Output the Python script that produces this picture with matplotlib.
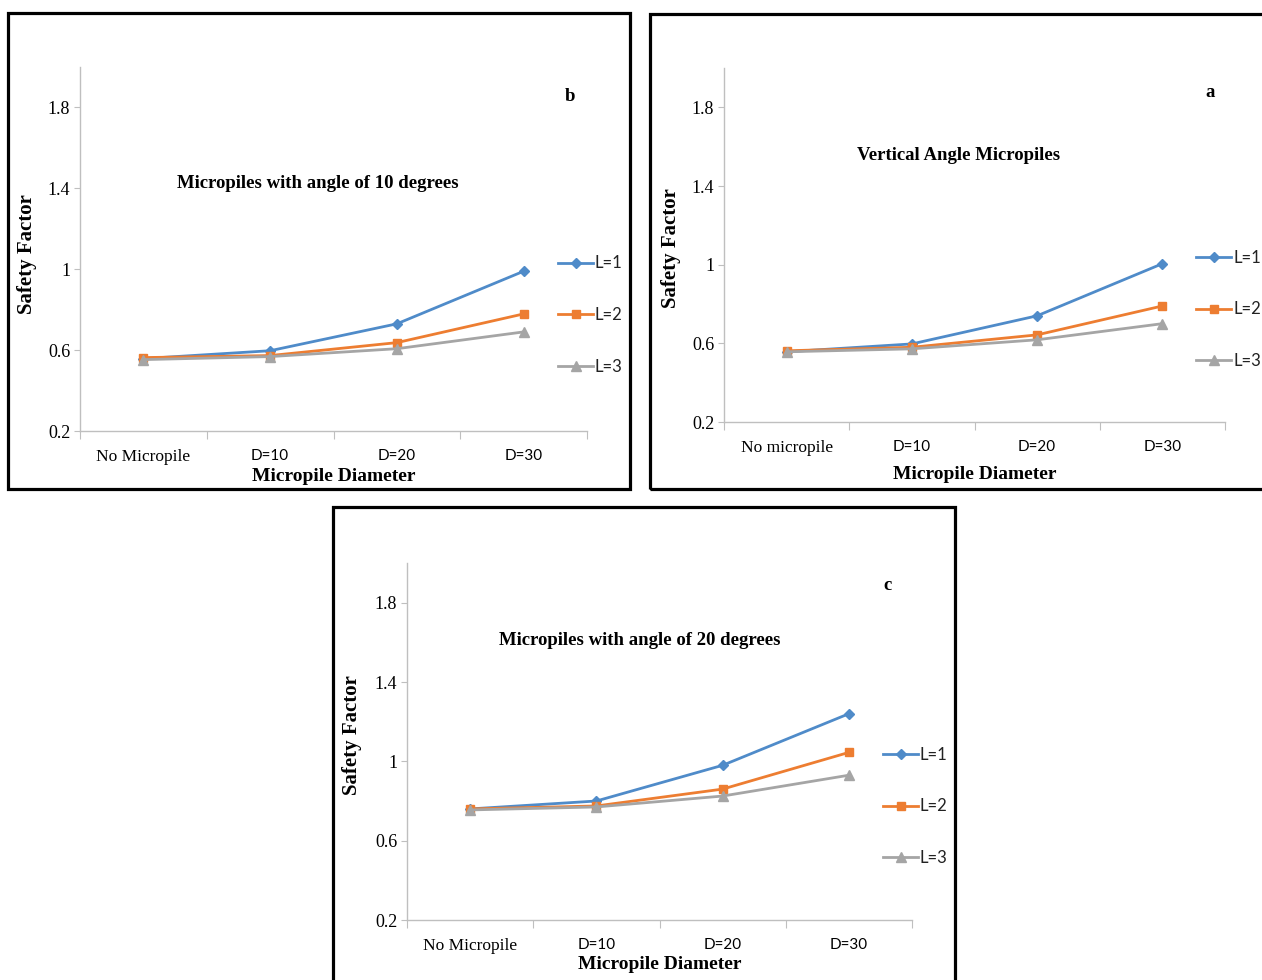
import matplotlib
matplotlib.use('Agg')
import matplotlib.pyplot as plt
from matplotlib.patches import Rectangle

W, H = 1262, 980

categories = ['No Micropile', 'D=10', 'D=20', 'D=30']
categories_a = ['No micropile', 'D=10', 'D=20', 'D=30']
y_ticks = [0.2, 0.6, 1.0, 1.4, 1.8]
y_tick_labels = ['0.2', '0.6', '1', '1.4', '1.8']
series_names = ['L=1', 'L=2', 'L=3']

# panel a - vertical micropiles
sf_a_L1 = [0.557, 0.597, 0.740, 1.005]
sf_a_L2 = [0.562, 0.580, 0.643, 0.790]
sf_a_L3 = [0.557, 0.572, 0.618, 0.700]
# panel b - 10 degrees
sf_b_L1 = [0.558, 0.597, 0.730, 0.990]
sf_b_L2 = [0.563, 0.573, 0.637, 0.779]
sf_b_L3 = [0.553, 0.568, 0.607, 0.690]
# panel c - 20 degrees
sf_c_L1 = [0.760, 0.800, 0.980, 1.240]
sf_c_L2 = [0.760, 0.775, 0.860, 1.045]
sf_c_L3 = [0.755, 0.770, 0.825, 0.930]

colors = ['#4F8BC9', '#ED7D31', '#A5A5A5']
markers = ['D', 's', '^']
msizes = [5, 6, 6.5]

SERIF = 'Liberation Serif'
SANS = ['Lato', 'DejaVu Sans']


def px_box(x0, y0, x1, y1):
    return [x0 / W, 1 - y1 / H, (x1 - x0) / W, (y1 - y0) / H]


def draw_panel(fig, frame, axbox, cats, series, title, title_xy, letter, letter_xy, ylab_xy, xlab_y):
    fr = px_box(*frame)
    fig.add_artist(Rectangle((fr[0], fr[1]), fr[2], fr[3], fill=False, lw=2.3,
                             edgecolor='black', transform=fig.transFigure))
    ax = fig.add_axes(px_box(*axbox))
    x = list(range(len(cats)))
    for vals, name, c, m, ms in zip(series, series_names, colors, markers, msizes):
        ax.plot(x, vals, color=c, marker=m, markersize=ms, lw=2.0, label=name)

    ax.set_xlim(-0.5, 3.5)
    ax.set_ylim(0.2, 2.0)
    for s in ['top', 'right']:
        ax.spines[s].set_visible(False)
    for s in ['left', 'bottom']:
        ax.spines[s].set_color('#BFBFBF')
        ax.spines[s].set_linewidth(1.0)

    ax.set_yticks(y_ticks)
    ax.set_yticklabels(y_tick_labels, fontfamily=SERIF, fontsize=13)
    ax.tick_params(axis='y', length=4, color='#BFBFBF', pad=3)

    ax.set_xticks([-0.5, 0.5, 1.5, 2.5, 3.5])
    ax.set_xticklabels([])
    ax.tick_params(axis='x', which='major', length=6, color='#BFBFBF')
    ax.set_xticks(x, minor=True)
    ax.set_xticklabels(cats, minor=True, fontfamily=SANS, fontsize=11)
    ax.tick_params(axis='x', which='minor', length=0, pad=13)
    first = ax.xaxis.get_minorticklabels()[0]
    first.set_fontfamily(SERIF)
    first.set_fontsize(12.5)

    ax.text(title_xy[0], title_xy[1], title, transform=ax.transAxes, ha='center', va='center',
            fontfamily=SERIF, fontweight='bold', fontsize=13.5)
    ax.text(letter_xy[0], letter_xy[1], letter, transform=ax.transAxes, ha='center', va='center',
            fontfamily=SERIF, fontweight='bold', fontsize=13.5)

    ax.text(ylab_xy[0], ylab_xy[1], 'Safety Factor', transform=ax.transAxes, rotation=90,
            ha='center', va='center', fontfamily=SERIF, fontweight='bold', fontsize=15)
    ax.text(0.5, xlab_y, 'Micropile Diameter', transform=ax.transAxes, ha='center', va='center',
            fontfamily=SERIF, fontweight='bold', fontsize=14)

    leg = ax.legend(loc='center left', bbox_to_anchor=(0.943, 0.318), frameon=False,
                    prop={'family': SANS, 'size': 12}, handlelength=2.1, handletextpad=0.1,
                    labelspacing=2.15, borderpad=0, borderaxespad=0)
    for t in leg.get_texts():
        t.set_color('#222222')
    return ax


fig = plt.figure(figsize=(W / 100, H / 100), dpi=100)

# b: 10 degrees (top left)
draw_panel(fig, (8, 13, 630, 489), (80, 67, 587, 431), categories,
           [sf_b_L1, sf_b_L2, sf_b_L3], 'Micropiles with angle of 10 degrees', (0.469, 0.679),
           'b', (0.966, 0.92), (-0.105, 0.486), -0.126)

# a: vertical (top right)
draw_panel(fig, (650, 14, 1275, 489), (724, 68, 1225, 422), categories_a,
           [sf_a_L1, sf_a_L2, sf_a_L3], 'Vertical Angle Micropiles', (0.469, 0.754),
           'a', (0.970, 0.932), (-0.106, 0.49), -0.147)

# c: 20 degrees (bottom)
draw_panel(fig, (333, 507, 955, 995), (407, 563, 912, 920), categories,
           [sf_c_L1, sf_c_L2, sf_c_L3], 'Micropiles with angle of 20 degrees', (0.461, 0.782),
           'c', (0.952, 0.938), (-0.109, 0.518), -0.126)

fig.savefig('out.png', dpi=100)
